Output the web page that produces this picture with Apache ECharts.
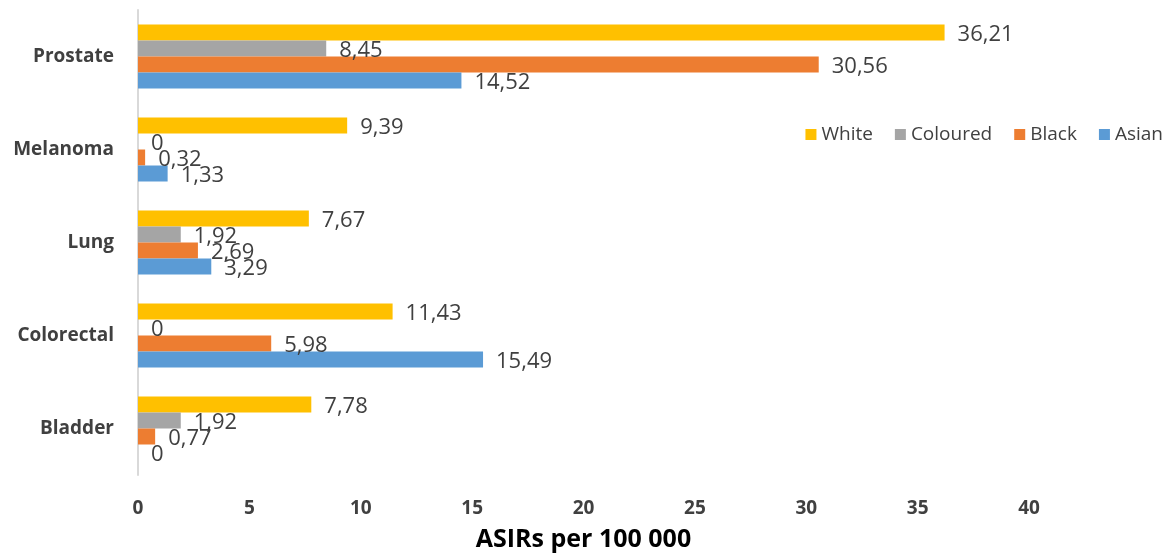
<!DOCTYPE html>
<html><head><meta charset="utf-8">
<script src="https://cdn.jsdelivr.net/npm/echarts@6/dist/echarts.min.js"></script>
<style>html,body{margin:0;padding:0;background:#fff}#c{width:1170px;height:556px}</style>
</head><body><div id="c"></div>
<script>
var categories = ['Bladder', 'Colorectal', 'Lung', 'Melanoma', 'Prostate'];
var asian    = [0, 15.49, 3.29, 1.33, 14.52];
var black    = [0.77, 5.98, 2.69, 0.32, 30.56];
var coloured = [1.92, 0, 1.92, 0, 8.45];
var white    = [7.78, 11.43, 7.67, 9.39, 36.21];
var legendOrder = ['White', 'Coloured', 'Black', 'Asian'];
var FONT = '"Open Sans", sans-serif';
var chart = echarts.init(document.getElementById('c'));
function mk(name, data, color) {
  return {
    name: name, type: 'bar', data: data, barWidth: 16, barGap: '0%',
    itemStyle: { color: color },
    label: {
      show: true, position: 'right', distance: 13, offset: [0, 2],
      color: '#404040', fontSize: 22, fontFamily: FONT,
      formatter: function (p) { return String(p.value).replace('.', ','); }
    }
  };
}
chart.setOption({
  animation: false,
  grid: { left: 138, right: 141, top: 10, bottom: 81, containLabel: false, outerBoundsMode: 'none' },
  legend: {
    data: legendOrder, right: 2, top: 120, itemWidth: 11, itemHeight: 11, itemGap: 22,
    icon: 'rect',
    textStyle: { color: '#404040', fontSize: 19, fontFamily: FONT }
  },
  xAxis: {
    type: 'value', min: 0, max: 40, interval: 5,
    axisLine: { show: false }, axisTick: { show: false }, splitLine: { show: false },
    axisLabel: { color: '#404040', fontSize: 19, fontWeight: 'bold', fontFamily: FONT, margin: 24 },
    name: 'ASIRs per 100 000', nameLocation: 'middle', nameGap: 52, nameMoveOverlap: false,
    nameTextStyle: { color: '#000', fontSize: 25, fontWeight: 'bold', fontFamily: FONT }
  },
  yAxis: {
    type: 'category', data: categories,
    axisLine: { show: true, lineStyle: { color: '#d9d9d9', width: 2 } },
    axisTick: { show: false },
    axisLabel: { color: '#404040', fontSize: 19, fontWeight: 'bold', fontFamily: FONT, margin: 24 }
  },
  series: [
    mk('White', white, '#FFC000'),
    mk('Coloured', coloured, '#A5A5A5'),
    mk('Black', black, '#ED7D31'),
    mk('Asian', asian, '#5B9BD5')
  ]
});
</script></body></html>
